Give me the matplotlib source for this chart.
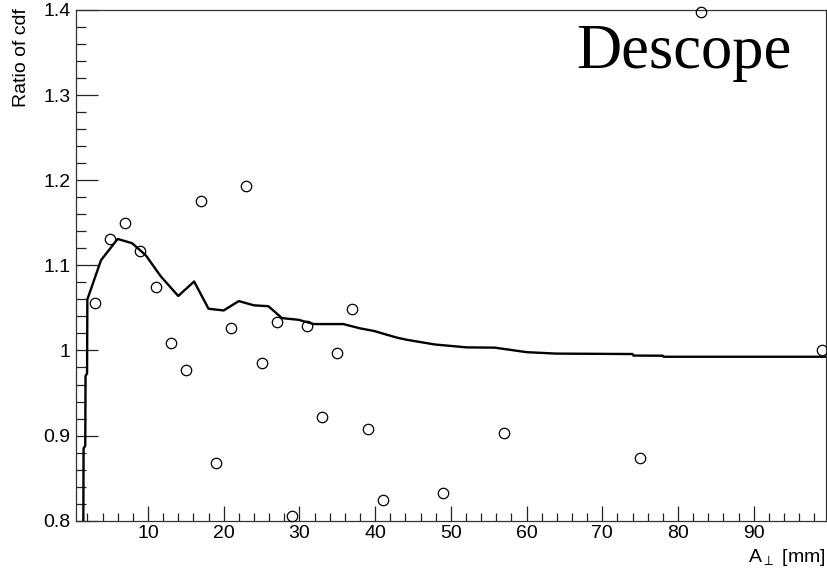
import matplotlib
matplotlib.use("Agg")
import matplotlib.pyplot as plt
from matplotlib.ticker import MultipleLocator, FixedLocator

plt.rcParams["font.family"] = ["Liberation Sans", "DejaVu Sans"]
plt.rcParams["mathtext.fontset"] = "dejavusans"

# cumulative ratio curve
cdf_x = [1.45, 1.5, 1.72, 1.76, 1.96, 2.0, 3.8, 6.0, 7.9, 9.7, 11.7, 14.0, 16.1,
         18.0, 20.0, 22.0, 24.0, 25.9, 27.7, 29.9, 31.9, 35.8, 38.0, 39.8, 42.9,
         44.2, 47.9, 52.1, 55.8, 60.0, 63.9, 74.0, 74.1, 78.0, 78.1, 99.5]
cdf_y = [0.75, 0.885, 0.888, 0.97, 0.973, 1.06, 1.106, 1.131, 1.126, 1.112, 1.087,
         1.064, 1.081, 1.049, 1.047, 1.058, 1.053, 1.052, 1.038, 1.036, 1.031,
         1.031, 1.026, 1.023, 1.015, 1.0125, 1.007, 1.0036, 1.0033, 0.998, 0.9963,
         0.9958, 0.9940, 0.9938, 0.9926, 0.9926]

# per-bin ratio points
pt_x = [3, 5, 7, 9, 11, 13, 15, 17, 19, 21, 23, 25, 27, 29, 31, 33, 35, 37, 39,
        41, 49, 57, 75, 83, 99]
pt_y = [1.056, 1.131, 1.150, 1.117, 1.074, 1.009, 0.977, 1.175, 0.868, 1.026,
        1.193, 0.985, 1.033, 0.805, 1.029, 0.922, 0.997, 1.049, 0.908, 0.824,
        0.833, 0.903, 0.874, 1.398, 1.000]

xticks = [10, 20, 30, 40, 50, 60, 70, 80, 90]
yticks = [0.8, 0.9, 1.0, 1.1, 1.2, 1.3, 1.4]
ytick_labels = ["0.8", "0.9", "1", "1.1", "1.2", "1.3", "1.4"]

fig = plt.figure(figsize=(8.27, 5.70), dpi=100)
ax = fig.add_axes([0.0919, 0.0865, 0.9065, 0.896])

ax.plot(cdf_x, cdf_y, color="black", lw=1.7, zorder=2)
ax.plot(pt_x, pt_y, linestyle="none", marker="o", markersize=7.5,
        markerfacecolor="none", markeredgecolor="black", markeredgewidth=0.9,
        clip_on=False, zorder=3)

ax.set_xlim(0.5, 99.5)
ax.set_ylim(0.8, 1.4)

ax.xaxis.set_major_locator(FixedLocator(xticks))
ax.xaxis.set_minor_locator(MultipleLocator(2))
ax.set_yticks(yticks)
ax.set_yticklabels(ytick_labels)
ax.yaxis.set_minor_locator(MultipleLocator(0.02))

ax.tick_params(axis="both", which="both", direction="in", top=False, right=False,
               colors="#222222", width=0.9, labelcolor="black", labelsize=14)
ax.tick_params(axis="y", which="major", length=16, pad=4)
ax.tick_params(axis="y", which="minor", length=7.5)
ax.tick_params(axis="x", which="major", length=11, pad=3)
ax.tick_params(axis="x", which="minor", length=6)

for side in ax.spines.values():
    side.set_linewidth(0.9)
    side.set_color("#333333")

fig.text(0.0266, 0.986, "Ratio of cdf", rotation=90, ha="center", va="top",
         fontsize=14)
fig.text(0.9985, 0.0146, r"A$_{\perp}$ [mm]", ha="right", va="baseline",
         fontsize=14)
fig.text(0.6973, 0.880, "Descope", ha="left", va="baseline", fontsize=45,
         family=["Liberation Serif", "DejaVu Serif"])

fig.savefig("out.png", dpi=100)
